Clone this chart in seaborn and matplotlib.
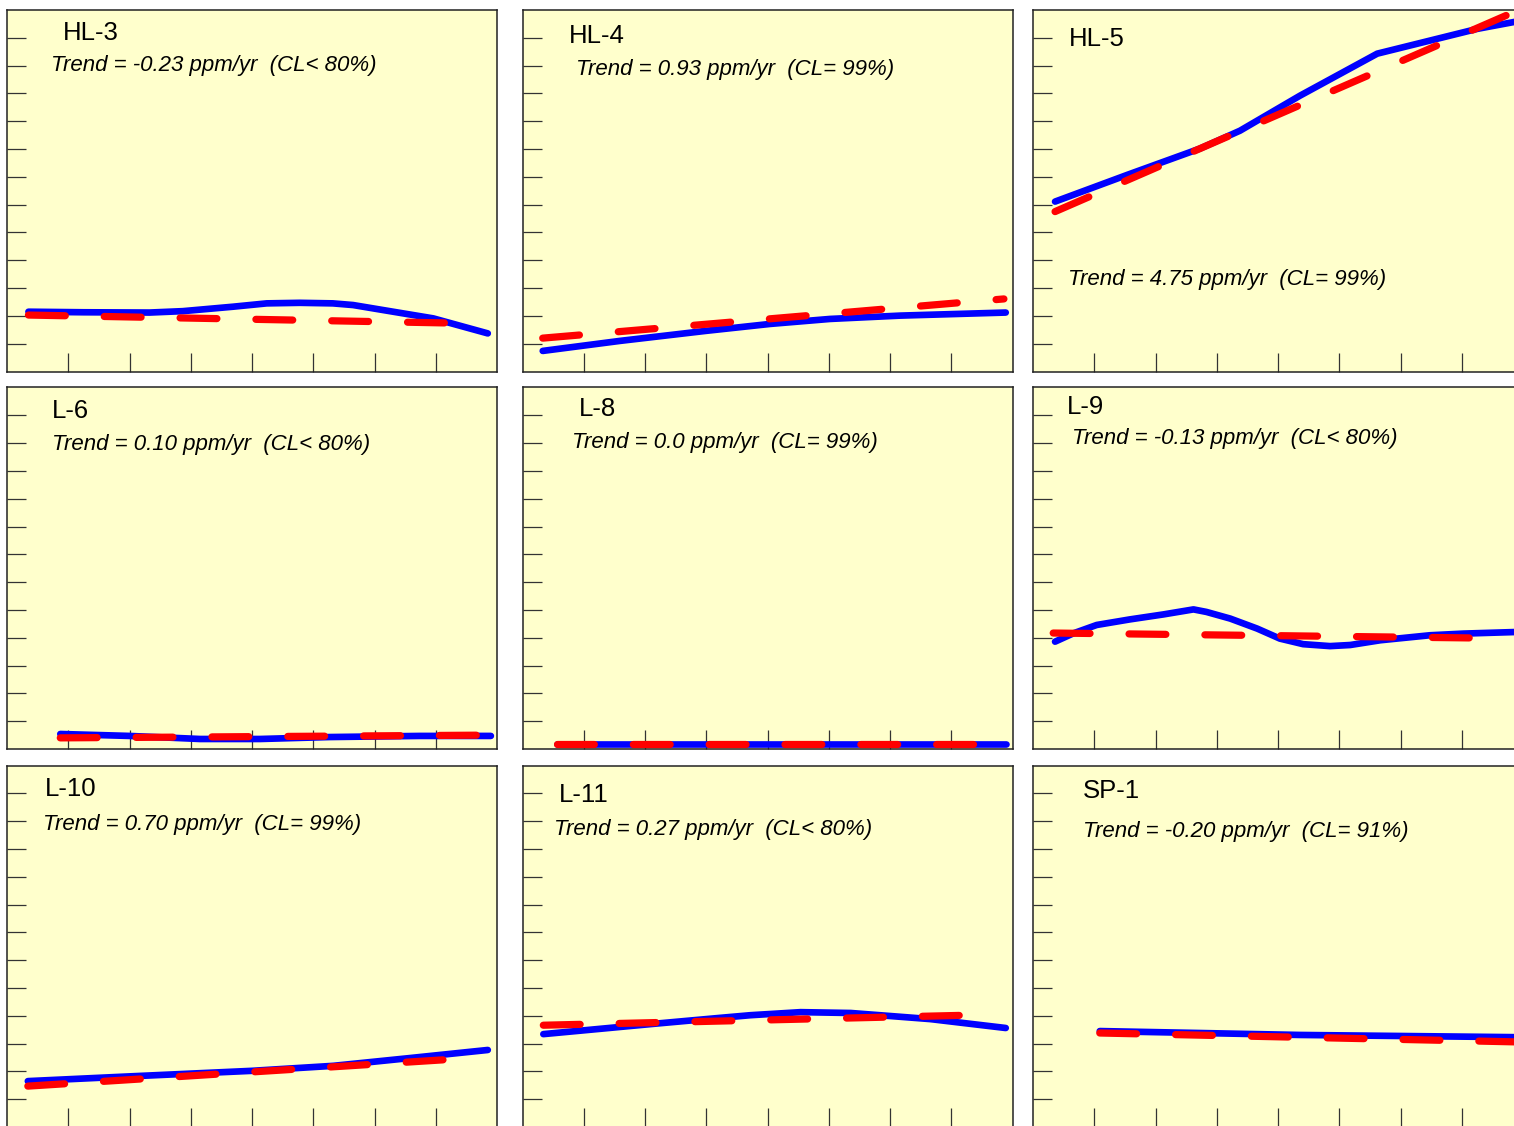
import matplotlib
matplotlib.use("Agg")
import matplotlib.pyplot as plt
import seaborn as sns
import pandas as pd

sns.set_theme(style="ticks")
plt.rcParams['font.family'] = ['Liberation Sans', 'DejaVu Sans']

# ---------------- data ----------------
names = ["HL-3", "HL-4", "HL-5", "L-6", "L-8", "L-9", "L-10", "L-11", "SP-1"]
trend_texts = [
    "Trend = -0.23 ppm/yr  (CL< 80%)",
    "Trend = 0.93 ppm/yr  (CL= 99%)",
    "Trend = 4.75 ppm/yr  (CL= 99%)",
    "Trend = 0.10 ppm/yr  (CL< 80%)",
    "Trend = 0.0 ppm/yr  (CL= 99%)",
    "Trend = -0.13 ppm/yr  (CL< 80%)",
    "Trend = 0.70 ppm/yr  (CL= 99%)",
    "Trend = 0.27 ppm/yr  (CL< 80%)",
    "Trend = -0.20 ppm/yr  (CL= 91%)",
]

# smoothed concentration (blue) per well
hl3_x = [0.35, 1.25, 2.33, 2.87, 3.69, 4.24, 4.78, 5.32, 5.65, 6.14, 6.96, 7.85]
hl3_y = [2.15, 2.13, 2.12, 2.17, 2.33, 2.45, 2.47, 2.45, 2.39, 2.21, 1.91, 1.37]
hl4_x = [0.33, 1.59, 2.99, 4.04, 5.02, 6.17, 7.89]
hl4_y = [0.74, 1.10, 1.46, 1.71, 1.89, 2.01, 2.12]
hl5_x = [0.36, 1.55, 2.73, 3.38, 4.36, 5.62, 7.25, 7.93]
hl5_y = [6.11, 7.08, 8.02, 8.66, 9.92, 11.43, 12.32, 12.60]
l6_x = [0.87, 2.00, 3.15, 4.13, 5.27, 6.74, 7.90]
l6_y = [0.54, 0.47, 0.36, 0.36, 0.43, 0.47, 0.47]
l8_x = [0.56, 7.89]
l8_y = [0.18, 0.18]
l9_x = [0.36, 0.66, 1.04, 1.58, 2.13, 2.62, 2.83, 3.22, 3.66, 4.03, 4.41, 4.85,
        5.18, 5.67, 6.48, 7.03, 7.93]
l9_y = [3.86, 4.16, 4.46, 4.66, 4.84, 5.02, 4.93, 4.69, 4.33, 3.97, 3.77, 3.70,
        3.74, 3.91, 4.09, 4.15, 4.21]
l10_x = [0.34, 2.00, 4.00, 5.33, 6.58, 7.85]
l10_y = [1.65, 1.82, 2.02, 2.20, 2.48, 2.77]
l11_x = [0.34, 2.09, 3.20, 3.72, 4.54, 5.36, 6.66, 7.89]
l11_y = [3.34, 3.70, 3.92, 4.02, 4.13, 4.10, 3.88, 3.56]
sp1_x = [1.09, 4.36, 7.90]
sp1_y = [3.45, 3.31, 3.23]

# linear trend (red dashed) end points per well
hl3_tx, hl3_ty = [0.35, 7.31], [2.03, 1.74]
hl4_tx, hl4_ty = [0.33, 7.86], [1.20, 2.61]
hl5_tx, hl5_ty = [0.36, 7.93], [5.75, 13.00]
l6_tx, l6_ty = [0.87, 7.90], [0.40, 0.50]
l8_tx, l8_ty = [0.56, 7.89], [0.19, 0.19]
l9_tx, l9_ty = [0.33, 7.30], [4.17, 3.99]
l10_tx, l10_ty = [0.34, 7.30], [1.47, 2.44]
l11_tx, l11_ty = [0.34, 7.27], [3.66, 4.02]
sp1_tx, sp1_ty = [1.09, 7.90], [3.38, 3.06]

blue_x = [hl3_x, hl4_x, hl5_x, l6_x, l8_x, l9_x, l10_x, l11_x, sp1_x]
blue_y = [hl3_y, hl4_y, hl5_y, l6_y, l8_y, l9_y, l10_y, l11_y, sp1_y]
red_x = [hl3_tx, hl4_tx, hl5_tx, l6_tx, l8_tx, l9_tx, l10_tx, l11_tx, sp1_tx]
red_y = [hl3_ty, hl4_ty, hl5_ty, l6_ty, l8_ty, l9_ty, l10_ty, l11_ty, sp1_ty]

# text placement (pixels from panel left/top)
label_pos = [(56, 23), (46, 26), (36, 29), (45, 23), (56, 22), (34, 20), (38, 23), (36, 29), (50, 26)]
trend_pos = [(44, 56), (53, 59), (35, 269), (45, 57), (49, 55), (39, 51), (36, 59), (32, 64), (50, 66)]

# ---------------- layout ----------------
W, H = 1514, 1126
fig = plt.figure(figsize=(W / 100, H / 100), dpi=100)
fig.patch.set_facecolor("white")

col_left = [7, 522.5, 1033]
row_top = [10, 387.5, 765.5]
pw, ph = 490, 361.5

for i in range(9):
    r, c = divmod(i, 3)
    L, T = col_left[c], row_top[r]
    ax = fig.add_axes([L / W, 1 - (T + ph) / H, pw / W, ph / H])
    ax.set_facecolor("#FFFFCC")

    dfb = pd.DataFrame({"x": blue_x[i], "y": blue_y[i]})
    dfr = pd.DataFrame({"x": red_x[i], "y": red_y[i]})
    sns.lineplot(data=dfb, x="x", y="y", ax=ax, color="#0000FF", linewidth=4.8,
                 estimator=None, sort=False, solid_capstyle="round",
                 solid_joinstyle="round", zorder=3)
    sns.lineplot(data=dfr, x="x", y="y", ax=ax, color="#FF0000", linewidth=5.2,
                 estimator=None, sort=False, linestyle=(0, (5.1, 5.4)),
                 dash_capstyle="round", zorder=4)

    ax.set_xlim(0, 8)
    ax.set_ylim(0, 13)
    ax.set_xticks(range(1, 8))
    ax.set_yticks(range(1, 13))
    ax.tick_params(direction="in", length=13.7, width=0.9, color="#333333",
                   labelleft=False, labelbottom=False)
    ax.set_xlabel("")
    ax.set_ylabel("")
    for s in ax.spines.values():
        s.set_visible(True)
        s.set_linewidth(1.1)
        s.set_color("#222222")

    lx, ly = label_pos[i]
    tx, ty = trend_pos[i]
    ax.text(lx / pw, 1 - ly / ph, names[i], transform=ax.transAxes,
            ha="left", va="center", fontsize=18.5, color="black")
    ax.text(tx / pw, 1 - ty / ph, trend_texts[i], transform=ax.transAxes,
            ha="left", va="center", fontsize=16, style="italic", color="black")

fig.savefig("out.png", dpi=100, facecolor="white")
